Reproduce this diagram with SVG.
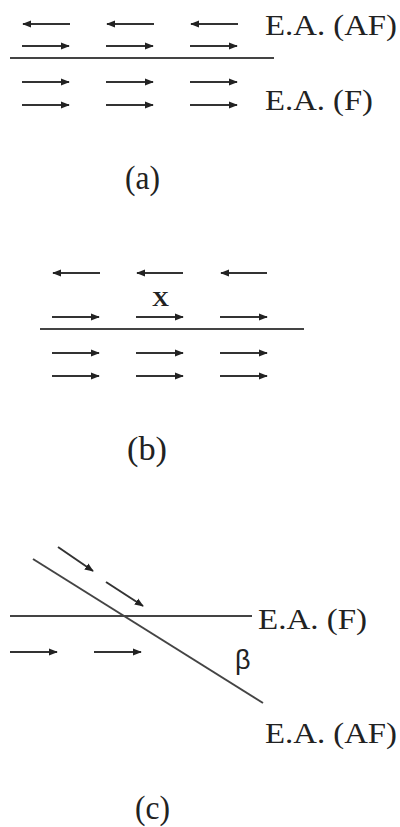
<svg xmlns="http://www.w3.org/2000/svg" width="400" height="827" viewBox="0 0 400 827">
<defs>
<marker id="ah" viewBox="0 0 10 10" refX="9" refY="5" markerWidth="4.5" markerHeight="4.5" orient="auto" markerUnits="strokeWidth">
<path d="M0,1 L10,5 L0,9 Z" fill="#222"/>
</marker>
</defs>
<style>
.ar{stroke:#333;stroke-width:2;fill:none;marker-end:url(#ah)}
.ln{stroke:#444;stroke-width:2;fill:none}
.t{font-family:"Liberation Serif","Times New Roman",serif;fill:#222}
.lbl{font-size:30px}
.cap{font-size:33px}
</style>
<rect width="400" height="827" fill="#fff"/>
<g id="panel-a">
<g id="a-arrows">
<line class="ar" x1="70" y1="24" x2="23" y2="24"/>
<line class="ar" x1="154" y1="24" x2="107" y2="24"/>
<line class="ar" x1="238" y1="24" x2="191" y2="24"/>
<line class="ar" x1="22" y1="46" x2="69" y2="46"/>
<line class="ar" x1="106" y1="46" x2="153" y2="46"/>
<line class="ar" x1="190" y1="46" x2="237" y2="46"/>
<line class="ar" x1="22" y1="82" x2="69" y2="82"/>
<line class="ar" x1="106" y1="82" x2="153" y2="82"/>
<line class="ar" x1="190" y1="82" x2="237" y2="82"/>
<line class="ar" x1="22" y1="105" x2="69" y2="105"/>
<line class="ar" x1="106" y1="105" x2="153" y2="105"/>
<line class="ar" x1="190" y1="105" x2="237" y2="105"/>
</g>
<line class="ln" x1="10" y1="58" x2="274" y2="58"/>
<text class="t lbl" x="265" y="35" textLength="132" lengthAdjust="spacingAndGlyphs">E.A. (AF)</text>
<text class="t lbl" x="265" y="110" textLength="108" lengthAdjust="spacingAndGlyphs">E.A. (F)</text>
<text class="t cap" x="125" y="189" textLength="35" lengthAdjust="spacingAndGlyphs">(a)</text>
</g>
<g id="panel-b">
<g id="b-arrows">
<line class="ar" x1="100" y1="273" x2="53" y2="273"/>
<line class="ar" x1="183" y1="273" x2="137" y2="273"/>
<line class="ar" x1="267" y1="273" x2="221" y2="273"/>
<line class="ar" x1="52" y1="317" x2="99" y2="317"/>
<line class="ar" x1="136" y1="317" x2="183" y2="317"/>
<line class="ar" x1="220" y1="317" x2="267" y2="317"/>
<line class="ar" x1="52" y1="353" x2="99" y2="353"/>
<line class="ar" x1="136" y1="353" x2="183" y2="353"/>
<line class="ar" x1="220" y1="353" x2="267" y2="353"/>
<line class="ar" x1="52" y1="376" x2="99" y2="376"/>
<line class="ar" x1="136" y1="376" x2="183" y2="376"/>
<line class="ar" x1="220" y1="376" x2="267" y2="376"/>
</g>
<line class="ln" x1="40" y1="329" x2="304" y2="329"/>
<text class="t" x="152" y="306" font-size="22" font-weight="bold" textLength="17" lengthAdjust="spacingAndGlyphs">X</text>
<text class="t cap" x="127" y="460" textLength="40" lengthAdjust="spacingAndGlyphs">(b)</text>
</g>
<g id="panel-c">
<g id="c-arrows">
<line class="ar" x1="58" y1="547" x2="93" y2="571"/>
<line class="ar" x1="106" y1="582" x2="143" y2="606"/>
<line class="ar" x1="10" y1="652" x2="57" y2="652"/>
<line class="ar" x1="94" y1="652" x2="141" y2="652"/>
</g>
<line class="ln" x1="10" y1="616" x2="252" y2="616"/>
<line class="ln" x1="33" y1="559" x2="263" y2="703" stroke-width="1.6"/>
<text class="t lbl" x="258" y="629" textLength="109" lengthAdjust="spacingAndGlyphs">E.A. (F)</text>
<text x="235" y="669" font-family="Liberation Sans, Arial, sans-serif" font-size="27" fill="#222">β</text>
<text class="t lbl" x="265" y="743" textLength="132" lengthAdjust="spacingAndGlyphs">E.A. (AF)</text>
<text class="t cap" x="135" y="819" textLength="35" lengthAdjust="spacingAndGlyphs">(c)</text>
</g>
</svg>
